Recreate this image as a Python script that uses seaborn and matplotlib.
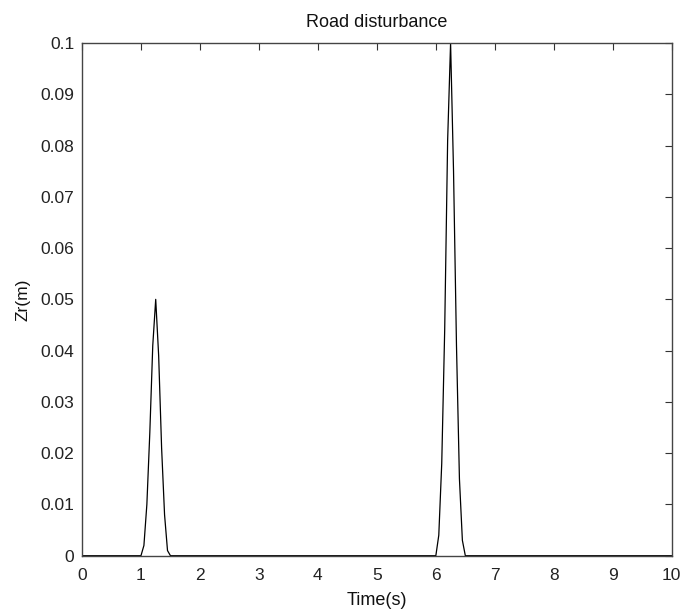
import matplotlib
matplotlib.use("Agg")
import matplotlib.pyplot as plt
import seaborn as sns
import pandas as pd
from matplotlib import font_manager

# ---- data ----
time_s = [0.00, 1.00, 1.05, 1.10, 1.15, 1.20, 1.25, 1.30, 1.35, 1.40, 1.45, 1.50,
          6.00, 6.05, 6.10, 6.15, 6.20, 6.25, 6.30, 6.35, 6.40, 6.45, 6.50, 10.00]
zr_m = [0.000, 0.000, 0.002, 0.010, 0.024, 0.041, 0.050, 0.039, 0.021, 0.008, 0.001, 0.000,
        0.000, 0.004, 0.018, 0.044, 0.081, 0.100, 0.075, 0.041, 0.015, 0.003, 0.000, 0.000]
x_ticks = [0, 1, 2, 3, 4, 5, 6, 7, 8, 9, 10]
y_ticks = [0, 0.01, 0.02, 0.03, 0.04, 0.05, 0.06, 0.07, 0.08, 0.09, 0.1]
y_tick_labels = ["0", "0.01", "0.02", "0.03", "0.04", "0.05", "0.06", "0.07", "0.08", "0.09", "0.1"]
title = "Road disturbance"
x_label = "Time(s)"
y_label = "Zr(m)"

sns.set_style("white")
names = {f.name for f in font_manager.fontManager.ttflist}
fam = ["Liberation Sans Narrow", "Liberation Sans", "DejaVu Sans"]
fam = [f for f in fam if f in names] or ["DejaVu Sans"]
plt.rcParams["font.family"] = fam

df = pd.DataFrame({"t": time_s, "z": zr_m})

fig = plt.figure(figsize=(6.81, 6.09), dpi=100)
ax = fig.add_axes([0.1204, 0.0875, 0.8660, 0.8419])
sns.lineplot(data=df, x="t", y="z", ax=ax, color="black", linewidth=0.9,
             estimator=None, sort=False)

ax.set_xlim(0, 10)
ax.set_ylim(0, 0.1)
ax.set_xticks(x_ticks)
ax.set_xticklabels([str(v) for v in x_ticks])
ax.set_yticks(y_ticks)
ax.set_yticklabels(y_tick_labels)
ax.tick_params(direction="in", length=5, width=0.8, top=True, right=True,
               labelsize=12.5, colors="#333333", labelcolor="#222222")
ax.tick_params(axis="x", pad=8.5)
ax.tick_params(axis="y", pad=5.5)
for s in ax.spines.values():
    s.set_visible(True)
    s.set_color("#444444")
    s.set_linewidth(1.0)

ax.set_title(title, fontsize=13, color="#111111", pad=11.5)
ax.set_xlabel(x_label, fontsize=13, color="#111111", labelpad=7)
ax.set_ylabel(y_label, fontsize=12.5, color="#111111", labelpad=7.5)

fig.savefig("out.png", dpi=100)
